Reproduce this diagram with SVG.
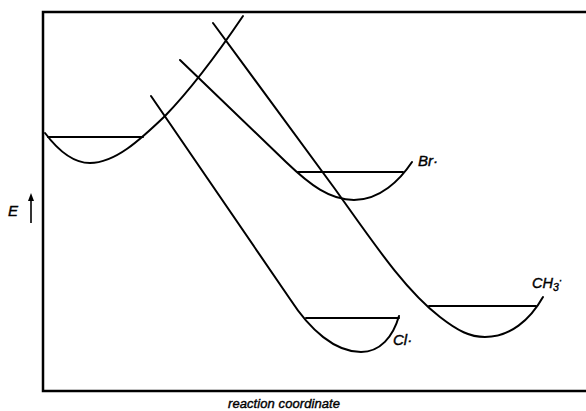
<svg xmlns="http://www.w3.org/2000/svg" width="586" height="411" viewBox="0 0 586 411">
<style>
.c{fill:none;stroke:#000;stroke-width:2;stroke-linecap:round;stroke-linejoin:round}
.f{fill:none;stroke:#000;stroke-width:2.5}
.t{font-family:"Liberation Sans",Arial,sans-serif;font-style:italic;fill:#000;stroke:#000;stroke-width:0.4}
</style>
<rect width="586" height="411" fill="#fff"/>
<g id="frame">
<path class="f" d="M586,12 H43 V391 H586"/>
</g>
<g id="axis-labels">
<text class="t" x="8" y="216" font-size="15">E</text>
<line x1="31" y1="223" x2="31" y2="198" stroke="#000" stroke-width="1.6"/>
<polygon points="28,201 31,193 34,201" fill="#000"/>
<text class="t" x="228" y="408" font-size="13" textLength="112">reaction coordinate</text>
</g>
<g id="connectors">
<path id="reactant" class="c" d="M45,133 C60,153 75,163 90,163 C115,163 140,140 165,116 C195,85 220,50 243,16"/>
<line class="c" x1="48" y1="137" x2="143" y2="137"/>
<path id="cl-curve" class="c" d="M151,96 L290,299 C310,330 335,352 361,352 C380,352 393,337 399,316"/>
<line class="c" x1="306" y1="318" x2="399" y2="318"/>
<path id="br-curve" class="c" d="M180,60 L286,162 C310,185 330,200 354,200 C380,200 400,180 412,162"/>
<line class="c" x1="298" y1="172" x2="403" y2="172"/>
<path id="ch3-curve" class="c" d="M213,23 L335,189 C375,245 405,290 440,317 C458,331 470,337 485,337 C510,337 530,320 543,297"/>
<line class="c" x1="429" y1="306" x2="536" y2="306"/>
</g>
<g id="br">
<text class="t" x="418" y="166" font-size="15">Br·</text>
</g>
<g id="cl">
<text class="t" x="393" y="345" font-size="15">Cl·</text>
</g>
<g id="ch3">
<text class="t" x="532" y="288" font-size="14.5">CH<tspan font-size="10.5" dy="3">3</tspan><tspan dy="-7" font-size="10.5">·</tspan></text>
</g>
</svg>
